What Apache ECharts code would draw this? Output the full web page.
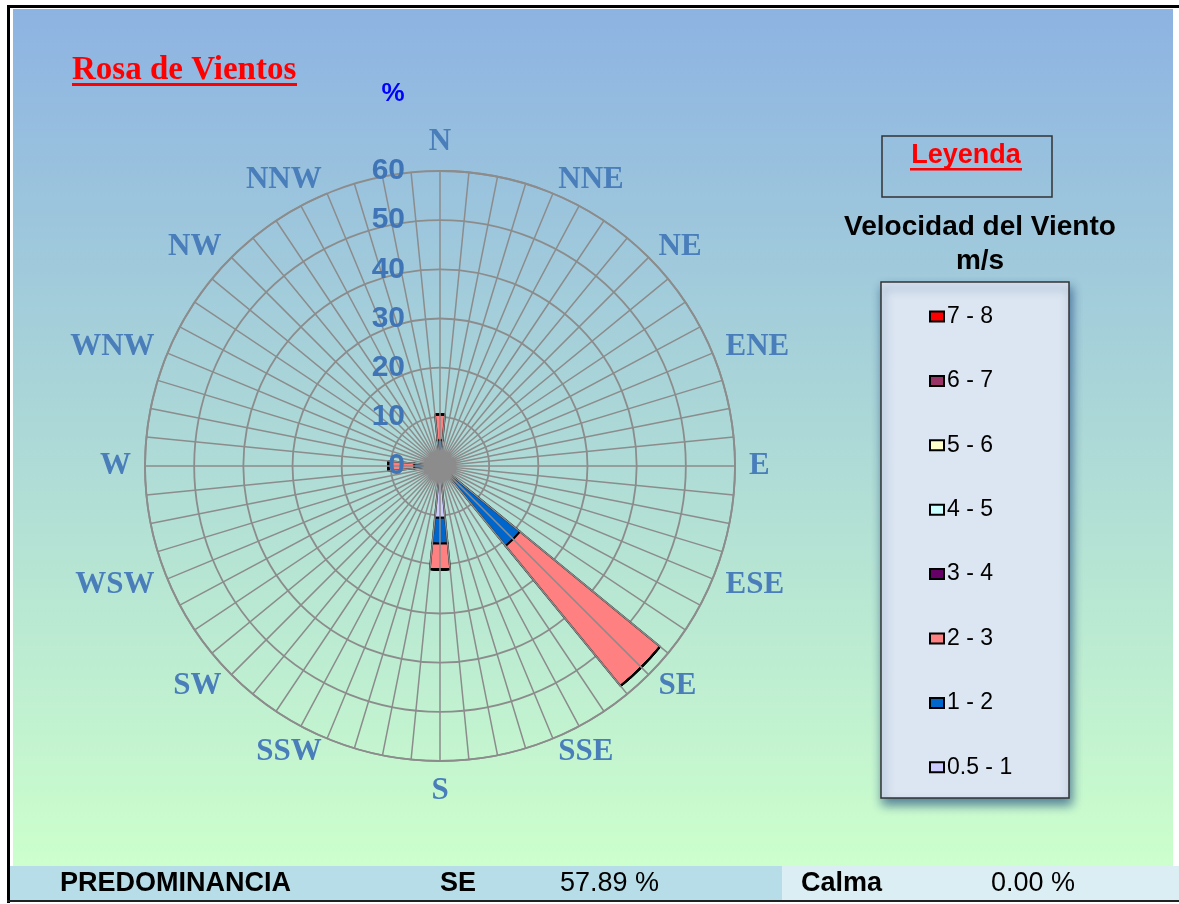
<!DOCTYPE html>
<html><head><meta charset="utf-8">
<script src="https://cdn.jsdelivr.net/npm/echarts@6/dist/echarts.min.js"></script>
<style>html,body{margin:0;padding:0;background:#fff;} #c{width:1179px;height:904px;}</style>
</head><body><div id="c"></div>
<script>
// ---- data ----
const directions = ['N','NNE','NE','ENE','E','ESE','SE','SSE','S','SSW','SW','WSW','W','WNW','NW','NNW'];
const speedClasses = ['0.5 - 1','1 - 2','2 - 3','3 - 4','4 - 5','5 - 6','6 - 7','7 - 8'];
const classColors = ['#ccccff','#0066cc','#ff8080','#660066','#ccffff','#ffffcc','#993366','#ff0000'];
//                 N    NNE NE ENE E  ESE SE    SSE S     SSW SW WSW W    WNW NW NNW
const freq_05_1 = [0,   0,  0, 0,  0, 0,  0,    0,  10.53,0,  0, 0,  0,   0,  0, 0];
const freq_1_2  = [5.26,0,  0, 0,  0, 0,  21.05,0,  5.26, 0,  0, 0,  5.26,0,  0, 0];
const freq_2_3  = [5.26,0,  0, 0,  0, 0,  36.84,0,  5.26, 0,  0, 0,  5.26,0,  0, 0];
const freq_3_4  = [0,   0,  0, 0,  0, 0,  0,    0,  0,    0,  0, 0,  0,   0,  0, 0];
const freq_4_5  = [0,   0,  0, 0,  0, 0,  0,    0,  0,    0,  0, 0,  0,   0,  0, 0];
const freq_5_6  = [0,   0,  0, 0,  0, 0,  0,    0,  0,    0,  0, 0,  0,   0,  0, 0];
const freq_6_7  = [0,   0,  0, 0,  0, 0,  0,    0,  0,    0,  0, 0,  0,   0,  0, 0];
const freq_7_8  = [0,   0,  0, 0,  0, 0,  0,    0,  0,    0,  0, 0,  0,   0,  0, 0];
const radiusMax = 60;
const radiusStep = 10;
const predominantDir = 'SE';
const predominantPct = '57.89';
const calmPct = '0.00';

const seriesValues = [freq_05_1, freq_1_2, freq_2_3, freq_3_4, freq_4_5, freq_5_6, freq_6_7, freq_7_8];

const axisBlue = '#4a7ebb';
const gridGray = '#8c8c8c';
const SANS = '"Liberation Sans", Arial, sans-serif';
const SERIF = '"Liberation Serif", "Times New Roman", serif';

const chart = echarts.init(document.getElementById('c'), null, {renderer:'canvas'});

const series = speedClasses.map((name, i) => ({
  type: 'bar', name: name, coordinateSystem: 'polar', polarIndex: 1,
  stack: 'rose', data: seriesValues[i], barWidth: '50%',
  itemStyle: { color: classColors[i], borderColor: '#000', borderWidth: 1.8 },
  z: 2
}));

function bandText(x, text, bold) {
  return { type: 'text', z: 10, x: x, y: 884,
    style: { text: text, fill: '#000', font: (bold ? 'bold ' : '') + '27px ' + SANS, textAlign: 'left', textVerticalAlign: 'middle' } };
}

const dirFont = { color: axisBlue, fontFamily: SERIF, fontWeight: 'bold', fontSize: 31 };

const option = {
  animation: false,
  polar: [
    { center: [440, 466], radius: 295 },
    { center: [440, 466], radius: 295 }
  ],
  angleAxis: [
    { polarIndex: 0, type: 'value', min: 0, max: 360, interval: 5.625, startAngle: 90, clockwise: true,
      axisLine: { show: false }, axisTick: { show: false }, axisLabel: { show: false },
      splitLine: { show: true, lineStyle: { color: gridGray, width: 1.5 } }, z: 3 },
    { polarIndex: 1, type: 'category', data: directions, boundaryGap: false, startAngle: 90, clockwise: true,
      axisLine: { show: true, lineStyle: { color: gridGray, width: 1.8 } }, axisTick: { show: false },
      splitLine: { show: false },
      axisLabel: Object.assign({ interval: 0, margin: 14,
        formatter: function (v) { return (v === 'N' || v === 'S') ? v : '{d|' + v + '}'; },
        rich: { d: Object.assign({ lineHeight: 2 }, dirFont) } }, dirFont), z: 3 }
  ],
  radiusAxis: [
    { polarIndex: 0, min: 0, max: radiusMax, interval: radiusStep,
      axisLine: { show: false }, axisTick: { show: false }, axisLabel: { show: false },
      splitLine: { show: true, lineStyle: { color: gridGray, width: 1.8 } }, z: 0 },
    { polarIndex: 1, min: 0, max: radiusMax, interval: radiusStep,
      axisLine: { show: false }, axisTick: { show: false }, splitLine: { show: false },
      axisLabel: { color: '#3f74b6', fontFamily: SANS, fontWeight: 'bold', fontSize: 30, margin: 35, opacity: 1 }, zlevel: 1, z: 10 }
  ],
  legend: {
    orient: 'vertical', left: 924, top: 300,
    data: speedClasses.slice().reverse(),
    icon: 'rect', itemWidth: 14, itemHeight: 10, itemGap: 41.4,
    itemStyle: { borderColor: '#000', borderWidth: 2 },
    textStyle: { color: '#000', fontFamily: SANS, fontSize: 23, padding: [0,0,0,-2] },
    z: 6
  },
  series: series,
  graphic: { elements: [
    { type: 'rect', z: -100, shape: { x: 13, y: 9, width: 1160, height: 857 },
      style: { fill: new echarts.graphic.LinearGradient(0, 0, 0, 1, [
        { offset: 0, color: '#8db3e2' }, { offset: 1, color: '#ccffcc' } ]) } },
    // frame
    { type: 'rect', z: 10, shape: { x: 7, y: 5, width: 1172, height: 3 }, style: { fill: '#000' } },
    { type: 'rect', z: 10, shape: { x: 7, y: 5, width: 3, height: 898 }, style: { fill: '#000' } },
    { type: 'rect', z: 10, shape: { x: 7, y: 900, width: 1172, height: 2 }, style: { fill: '#222' } },
    // bottom band
    { type: 'rect', z: -90, shape: { x: 10, y: 866, width: 772, height: 34 }, style: { fill: '#b7dde8' } },
    { type: 'rect', z: -90, shape: { x: 782, y: 866, width: 397, height: 34 }, style: { fill: '#dbeef3' } },
    bandText(60, 'PREDOMINANCIA', true),
    bandText(440, predominantDir, true),
    bandText(560, predominantPct + ' %', false),
    bandText(801, 'Calma', true),
    bandText(991, calmPct + ' %', false),
    // title
    { type: 'text', z: 10, x: 72, y: 70, style: { text: 'Rosa de Vientos', fill: '#ff0000', font: 'bold 33px "Liberation Serif", serif', textAlign: 'left', textVerticalAlign: 'middle' } },
    { type: 'rect', z: 10, shape: { x: 72, y: 83, width: 225, height: 3 }, style: { fill: '#ff0000' } },
    { type: 'text', z: 10, x: 393, y: 94, style: { text: '%', fill: '#0000ff', font: 'bold 26px ' + SANS, textAlign: 'center', textVerticalAlign: 'middle' } },
    // legend header box
    { type: 'rect', z: 1, shape: { x: 882, y: 136, width: 170, height: 61 }, style: { fill: 'none', stroke: '#333', lineWidth: 1.5 } },
    { type: 'text', z: 10, x: 966, y: 156, style: { text: 'Leyenda', fill: '#ff0000', font: 'bold 27px ' + SANS, textAlign: 'center', textVerticalAlign: 'middle' } },
    { type: 'rect', z: 10, shape: { x: 910, y: 168, width: 112, height: 2.5 }, style: { fill: '#ff0000' } },
    { type: 'text', z: 10, x: 980, y: 227, style: { text: 'Velocidad del Viento', fill: '#000', font: 'bold 28px ' + SANS, textAlign: 'center', textVerticalAlign: 'middle' } },
    { type: 'text', z: 10, x: 980, y: 261, style: { text: 'm/s', fill: '#000', font: 'bold 28px ' + SANS, textAlign: 'center', textVerticalAlign: 'middle' } },
    // legend box
    { type: 'rect', z: 1, shape: { x: 881, y: 282, width: 188, height: 516 },
      style: { fill: '#dce6f2', stroke: '#333', lineWidth: 1.5, shadowBlur: 10, shadowOffsetX: 2, shadowOffsetY: 6, shadowColor: 'rgba(31,73,125,0.7)' } }
  ] }
};
chart.setOption(option);
</script></body></html>
